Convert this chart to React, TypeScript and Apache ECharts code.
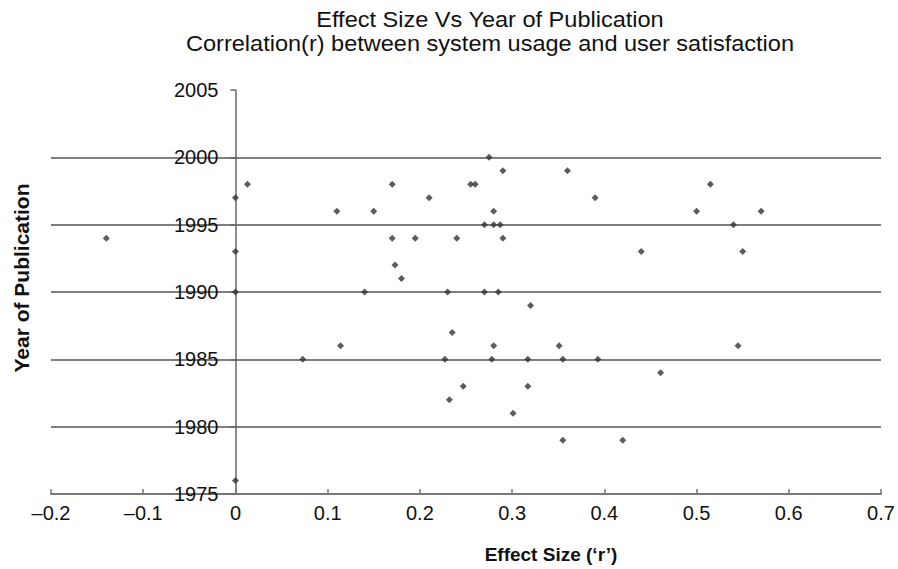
import React, { useEffect, useRef } from "react";
import * as echarts from "echarts";

const titleLines = [
  "Effect Size Vs Year of Publication",
  "Correlation(r) between system usage and user satisfaction",
];
const xAxisName = "Effect Size (\u2018r\u2019)";
const yAxisName = "Year of Publication";

const effectSizes = [
  -0.14, 0, 0.013, 0, 0.11, 0.275, 0.29, 0.36, 0.17, 0.255, 0.26, 0.21, 0.39,
  0.15, 0.28, 0.27, 0.28, 0.287, 0.17, 0.195, 0.24, 0.29, 0.173, 0.18, 0.14,
  0.23, 0.27, 0.285, 0.32, 0.235, 0.515, 0.5, 0.57, 0.54, 0.44, 0.55, 0, 0.114,
  0.28, 0.073, 0.227, 0.278, 0.247, 0.232, 0.301, 0, 0.351, 0.317, 0.355, 0.393,
  0.461, 0.317, 0.355, 0.42, 0.545,
];
const years = [
  1994, 1997, 1998, 1993, 1996, 2000, 1999, 1999, 1998, 1998, 1998, 1997, 1997,
  1996, 1996, 1995, 1995, 1995, 1994, 1994, 1994, 1994, 1992, 1991, 1990,
  1990, 1990, 1990, 1989, 1987, 1998, 1996, 1996, 1995, 1993, 1993, 1990, 1986,
  1986, 1985, 1985, 1985, 1983, 1982, 1981, 1976, 1986, 1985, 1985, 1985,
  1984, 1983, 1979, 1979, 1986,
];

const FONT = "'Liberation Sans', Arial, Helvetica, sans-serif";
const GRID_LEFT = 51;
const GRID_RIGHT = 17;
const X_MIN = -0.2;
const X_MAX = 0.7;

export default function App() {
  const ref = useRef<HTMLDivElement>(null);
  useEffect(() => {
    if (!ref.current) return;
    const chart = echarts.init(ref.current, null, { renderer: "svg" });
    const data = effectSizes.map((x, i) => [x, years[i]]);
    const gridWidth = 898 - GRID_LEFT - GRID_RIGHT;
    const zeroOffset = ((0 - X_MIN) / (X_MAX - X_MIN)) * gridWidth;
    chart.setOption({
      animation: false,
      backgroundColor: "#ffffff",
      textStyle: { fontFamily: FONT },
      grid: {
        left: GRID_LEFT,
        right: GRID_RIGHT,
        top: 90,
        bottom: 75,
        containLabel: false,
        outerBoundsMode: "none",
      },
      xAxis: {
        type: "value",
        min: X_MIN,
        max: X_MAX,
        interval: 0.1,
        axisLine: { onZero: false, lineStyle: { color: "#777", width: 2 } },
        axisTick: { show: true, inside: true, length: 5, lineStyle: { color: "#777", width: 1.5 } },
        axisLabel: {
          margin: 9,
          color: "#111",
          fontSize: 20,
          fontFamily: FONT,
          formatter: (v: number) => {
            if (Math.abs(v) < 1e-9) return "0";
            const s = Math.abs(v).toFixed(1);
            return v < 0 ? "\u2013" + s : s;
          },
        },
        splitLine: { show: false },
      },
      yAxis: {
        type: "value",
        min: 1975,
        max: 2005,
        interval: 5,
        position: "left",
        offset: -zeroOffset,
        axisLine: { show: true, onZero: false, lineStyle: { color: "#666", width: 1.5 } },
        axisTick: { show: true, length: 5, lineStyle: { color: "#666", width: 1.5 } },
        axisLabel: {
          margin: 17,
          color: "#111",
          fontSize: 20,
          fontFamily: FONT,
          formatter: (v: number) => String(v),
        },
        splitLine: {
          show: true,
          showMinLine: false,
          showMaxLine: false,
          lineStyle: { color: "#555", width: 1.5 },
        },
      },
      series: [
        {
          type: "scatter",
          data,
          symbol: "diamond",
          symbolSize: 7,
          itemStyle: { color: "#333" },
          z: 5,
        },
      ],
      graphic: [
        {
          type: "text",
          x: 490,
          y: 19,
          scaleX: 1.07,
          style: {
            text: titleLines[0],
            font: `22px ${FONT}`,
            fill: "#111",
            textAlign: "center",
            textVerticalAlign: "middle",
          },
        },
        {
          type: "text",
          x: 490,
          y: 43,
          scaleX: 1.07,
          style: {
            text: titleLines[1],
            font: `22px ${FONT}`,
            fill: "#111",
            textAlign: "center",
            textVerticalAlign: "middle",
          },
        },
        {
          type: "text",
          x: 551,
          y: 554,
          style: {
            text: xAxisName,
            font: `bold 19px ${FONT}`,
            fill: "#111",
            textAlign: "center",
            textVerticalAlign: "middle",
          },
        },
        {
          type: "text",
          x: 21,
          y: 278,
          rotation: Math.PI / 2,
          style: {
            text: yAxisName,
            font: `bold 21px ${FONT}`,
            fill: "#111",
            textAlign: "center",
            textVerticalAlign: "middle",
          },
        },
      ],
    });
    return () => chart.dispose();
  }, []);
  return (
    <div
      ref={ref}
      style={{ position: "fixed", left: 0, top: 0, width: 898, height: 569 }}
    />
  );
}
